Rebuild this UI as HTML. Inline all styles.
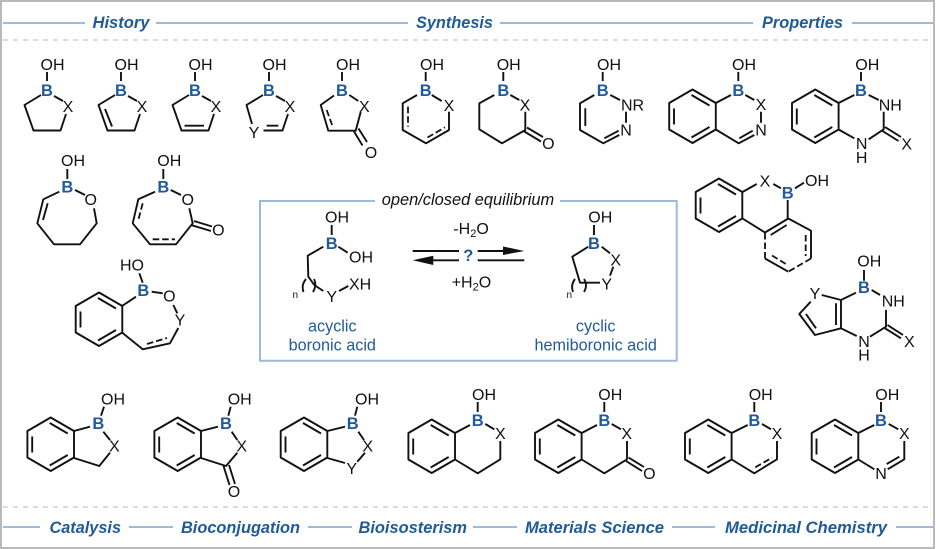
<!DOCTYPE html>
<html>
<head>
<meta charset="utf-8">
<title>Hemiboronic acids</title>
<style>
html,body{margin:0;padding:0;background:#fff;}
svg{display:block;}
text{font-family:"Liberation Sans",sans-serif;fill:#111;font-size:16px;}
.b{font-weight:bold;fill:#1f5a99;text-anchor:middle;font-size:16.5px;}
.c{text-anchor:middle;}
.h{font-weight:bold;font-style:italic;fill:#1f5a99;font-size:16.5px;}
.l{fill:#1f5a99;font-size:16.2px;text-anchor:middle;}
.m{fill:none;stroke:#111;stroke-width:1.9;stroke-linejoin:round;stroke-linecap:butt;}
.d{fill:none;stroke:#111;stroke-width:1.8;stroke-dasharray:6.5 3;}
.r{fill:none;stroke:#8fb0d8;stroke-width:1.7;}
.g{fill:none;stroke:#d0d0d0;stroke-width:1.5;stroke-dasharray:5 5;}
</style>
</head>
<body>
<svg width="936" height="549" viewBox="0 0 936 549" xmlns="http://www.w3.org/2000/svg">
<defs>
<path id="bz" class="m" d="M0 0L23.3 13.5V40L0 53.5L-23.3 40V13.5Z M-1 5.5L17 16 M-1 48L17 37.5 M-18.5 19V35"/>
</defs>
<rect x="0" y="0" width="936" height="549" fill="#fff"/>
<rect x="1" y="1" width="933" height="547" fill="none" stroke="#b9b9b9" stroke-width="2"/>

<!-- header -->
<path class="r" d="M3 23H85 M156 23H408 M500 23H753 M852 23H933"/>
<path class="g" d="M3 40H933 M3 507H933"/>
<text class="h" x="92.5" y="28" textLength="57" lengthAdjust="spacingAndGlyphs">History</text>
<text class="h" x="416" y="28" textLength="77" lengthAdjust="spacingAndGlyphs">Synthesis</text>
<text class="h" x="762" y="28" textLength="81" lengthAdjust="spacingAndGlyphs">Properties</text>

<!-- footer -->
<path class="r" d="M3 527H40 M129 527H173 M308 527H352 M473 527H517 M672 527H715 M896 527H933"/>
<text class="h" x="49.5" y="533" textLength="71.5" lengthAdjust="spacingAndGlyphs">Catalysis</text>
<text class="h" x="181" y="533" textLength="119" lengthAdjust="spacingAndGlyphs">Bioconjugation</text>
<text class="h" x="358.5" y="533" textLength="108.5" lengthAdjust="spacingAndGlyphs">Bioisosterism</text>
<text class="h" x="525" y="533" textLength="139" lengthAdjust="spacingAndGlyphs">Materials Science</text>
<text class="h" x="725" y="533" textLength="162" lengthAdjust="spacingAndGlyphs">Medicinal Chemistry</text>

<!-- row 1 -->
<!-- m1 -->
<text x="40.5" y="70">OH</text><text class="b" x="47" y="96">B</text><text class="c" x="68" y="112">X</text>
<path class="m" d="M47 72V81 M41 95L24.5 105L33.5 130.5H60.5L66 114 M54 96L63 101"/>
<!-- m2 -->
<text x="114.5" y="70">OH</text><text class="b" x="121" y="96">B</text><text class="c" x="142" y="112">X</text>
<path class="m" d="M121 72V81 M115 95L98.5 105L107.5 130.5H134.5L140 114 M128 96L137 101 M105 109L112 126.5"/>
<!-- m3 -->
<text x="188.5" y="70">OH</text><text class="b" x="195" y="96">B</text><text class="c" x="216" y="112">X</text>
<path class="m" d="M195 72V81 M189 95L172.5 105L181.5 130.5H208.5L214 114 M202 96L211 101 M184.5 125.7H204"/>
<!-- m4 -->
<text x="262.5" y="70">OH</text><text class="b" x="269" y="96">B</text><text class="c" x="290" y="112">X</text><text class="c" x="254" y="138">Y</text>
<path class="m" d="M269 72V81 M263 95L246.5 105L252 124 M276 96L285 101 M263.5 130.5H282.5L288 114 M266.7 125.7H278.3"/>
<!-- m5 -->
<text x="336" y="70">OH</text><text class="b" x="342" y="96">B</text><text class="c" x="364.3" y="112">X</text><text class="c" x="371" y="158">O</text>
<path class="m" d="M342 72V81 M334 95.5L320.7 105L328.3 130.7H355.7L360.7 112 M349.3 95L358.3 101 M354 131.5L362.5 145.5 M358.5 128.5L367 142"/>
<path class="d" d="M326.7 110L332.7 126.7"/>
<!-- m6 -->
<text x="420" y="70">OH</text><text class="b" x="425.7" y="96">B</text><text class="c" x="449" y="111">X</text>
<path class="m" d="M425.7 72V81 M417 95L402.7 103.3V130L426 143.3L449 130V111.7 M431.7 95L441.7 101"/>
<path class="d" d="M408 106.7V126.7 M427.5 137.5L445 127.3"/>
<!-- m7 -->
<text x="496.7" y="70">OH</text><text class="b" x="503.3" y="96">B</text><text class="c" x="525" y="110.5">X</text><text class="c" x="548.3" y="149">O</text>
<path class="m" d="M503.3 72V81 M494.3 95L479.3 103.3V129.3L502 143.3L525.3 130V111.7 M510.3 95L519.3 100 M524.3 131.5L541 141.5 M527 127.5L543 137"/>
<!-- m8 -->
<text x="597" y="70">OH</text><text class="b" x="602.7" y="96">B</text><text x="621" y="110.5">NR</text><text class="c" x="626" y="135.5">N</text>
<path class="m" d="M602.7 72V81 M594.3 95L580 103.3V130L603.3 143.3L619.3 135 M585.3 108.3V126 M604.3 138.3L618.7 130.7 M626 111.7V122.7 M610.3 95L620 100"/>
<!-- m9 -->
<text x="732" y="70">OH</text><text class="b" x="738.3" y="96">B</text><text class="c" x="761" y="110">X</text><text class="c" x="761" y="135.5">N</text>
<use href="#bz" x="692.5" y="89.5"/>
<path class="m" d="M738.3 72V81 M715.8 103L731 95 M715.8 129.5L738.7 143.3L754.3 135 M739.3 138.3L752.7 130.7 M761 111.7V122.7 M745.3 95L754.3 100"/>
<!-- m10 -->
<text x="855.3" y="70">OH</text><text class="b" x="861" y="96">B</text><text x="878.7" y="110.5">NH</text><text class="c" x="861.7" y="149">N</text><text class="c" x="861.7" y="163">H</text><text class="c" x="906.7" y="149.5">X</text>
<use href="#bz" x="815.3" y="89.5"/>
<path class="m" d="M861 72V81 M838.6 103L854.3 95 M838.6 129.5L854.3 138.3 M868.7 139.3L883.7 129.3V111.7 M882.5 131L898.5 141 M885 127L901 137 M868.7 95L878.7 100"/>

<!-- row 2 left -->
<!-- m11 -->
<text x="61" y="166">OH</text><text class="b" x="67.3" y="192.5">B</text><text class="c" x="90.7" y="205">O</text>
<path class="m" d="M67.3 169V179 M59.3 191.7L43.3 199.3L37.3 223.3L54 244.3H80L96.7 223.3L94 208.3 M47.7 203.3L43 220 M75 190L85 195"/>
<!-- m12 -->
<text x="157.3" y="166">OH</text><text class="b" x="163.3" y="192.5">B</text><text class="c" x="187.7" y="205">O</text><text class="c" x="218.3" y="235.5">O</text>
<path class="m" d="M163.3 169V179 M155 191.7L138.3 199.3L132.7 223.3L150 244.3H176L192.7 223.3L189.3 208.3 M170.7 190L181 195 M192 225.3L211 231 M194 221L212 226.5"/>
<path class="d" d="M142.7 203.3L138.3 220 M152.7 239.3H175"/>
<!-- m13 -->
<text x="120" y="270.5">HO</text><text class="b" x="143.3" y="296">B</text><text class="c" x="169.3" y="301.5">O</text><text class="c" x="180" y="325.5">Y</text>
<use href="#bz" x="99" y="292.5"/>
<path class="m" d="M139.3 273.3L142.7 282.7 M151.7 291.7L162.7 293.3 M173.3 305L177.3 313.3 M178.3 328L170 343.3L142.7 349.3L122 332.5 M122 306L136 296.7"/>
<path class="d" d="M147 344L167 338"/>

<!-- center box -->
<path fill="none" stroke="#9db9da" stroke-width="2" d="M375 201H260V360.7H676.7V201H560"/>
<text x="381.7" y="205" style="font-size:16.4px;font-style:italic" textLength="172.5" lengthAdjust="spacingAndGlyphs">open/closed equilibrium</text>

<!-- acyclic -->
<text x="325" y="222.3">OH</text><text class="b" x="331.7" y="249">B</text><text x="349" y="262.3">OH</text><text x="349" y="289.3">XH</text><text class="c" x="331.7" y="302">Y</text><text x="292.5" y="298" style="font-size:10px">n</text>
<path class="m" d="M331.7 225V235 M323.3 246.7L307.7 255.7L308.3 276.7L314.3 285L323.3 291 M338.3 246.7L347.7 252.7 M339 291L348.3 286 M306 279Q301 285 303.5 292 M314 279Q317 285 313 292"/>

<!-- arrows -->
<path class="m" d="M412.7 251H459 M477.7 251H510 M428 260.3H459 M477.7 260.3H524.3"/>
<path fill="#111" d="M503 246.5L524.3 251L503 255Z M412.7 260.3L433.3 255.7V265Z"/>
<text class="b" x="468.3" y="261">?</text>
<text x="453.3" y="234">-H<tspan dy="3" style="font-size:11px">2</tspan><tspan dy="-3">O</tspan></text>
<text x="451.7" y="287.3">+H<tspan dy="3" style="font-size:11px">2</tspan><tspan dy="-3">O</tspan></text>

<!-- cyclic -->
<text x="588.3" y="222.3">OH</text><text class="b" x="594" y="249">B</text><text class="c" x="615.7" y="265.5">X</text><text class="c" x="606.7" y="289.5">Y</text><text x="566.5" y="298" style="font-size:10px">n</text>
<path class="m" d="M594 225V235 M588.3 246.7L572.3 256.7L580 282.7H600 M601.7 246.7L610 253.3 M613.3 266.7L610 275.7 M575 279Q570.5 285 573 292 M584 279Q588 285 584 292"/>

<text class="l" x="332.3" y="331.7">acyclic</text>
<text class="l" x="332.3" y="350.7">boronic acid</text>
<text class="l" x="595.7" y="331.7">cyclic</text>
<text class="l" x="595.7" y="350.7">hemiboronic acid</text>

<!-- right 1 -->
<text class="c" x="765" y="186.5">X</text><text class="b" x="787.7" y="198.5">B</text><text x="805" y="186">OH</text>
<use href="#bz" x="719" y="178.5"/>
<path class="m" d="M742.5 192L756.7 184 M773.3 184L781 188.3 M795 188.3L804 182.7 M787.7 200V219 M742.5 218.5L765 232.5L788.3 218.5L811 230.7V258.5 M788.3 271.7L765 258.5 M770.7 235L786.7 225"/>
<path class="d" d="M765 233V258.5 M811 258.5L788.3 271.7 M805.7 235V256 M772 255.5L787.5 265"/>

<!-- right 2 -->
<text x="857.3" y="266.7">OH</text><text class="b" x="864" y="293">B</text><text x="881.7" y="306.7">NH</text><text class="c" x="815" y="299">Y</text><text class="c" x="864" y="347">N</text><text class="c" x="864" y="360.5">H</text><text class="c" x="909.3" y="347">X</text>
<path class="m" d="M864 270V280.7 M821.7 295L841 300L856 292.7 M841 300V328.3L815 335L799.3 314L810.7 301.7 M836 303.3V325 M816 328.3L806 314 M841 328.3L856.7 336 M870 336.7L886 326.7V310 M885 328.3L901 338.3 M887.5 325L903 335 M871.7 290L880 295"/>

<!-- bottom row -->
<!-- b1 -->
<text x="101" y="404.3">OH</text><text class="b" x="98.3" y="429">B</text><text class="c" x="114.3" y="451.5">X</text>
<use href="#bz" x="50.7" y="417.5"/>
<path class="m" d="M104 406.7L101 415.7 M74 431L90 426.7 M103.3 431.7L110 440 M74 458L99.3 466L110 452.7"/>
<!-- b2 -->
<text x="227.7" y="404.3">OH</text><text class="b" x="226" y="429">B</text><text class="c" x="241.7" y="451.5">X</text><text class="c" x="234" y="497">O</text>
<use href="#bz" x="177.7" y="417.5"/>
<path class="m" d="M230.7 406.7L228.3 415.7 M201 431L218 426.7 M231.7 431.7L237.3 440 M201 458L226 466L237.3 452.7 M223.5 466L229.5 485 M229 465L235 484"/>
<!-- b3 -->
<text x="355" y="404.3">OH</text><text class="b" x="352.7" y="429">B</text><text class="c" x="367.7" y="451.5">X</text><text class="c" x="351.7" y="474">Y</text>
<use href="#bz" x="304" y="417.5"/>
<path class="m" d="M357.3 406.7L355 415.7 M327.3 431L345 426.7 M358.3 431.7L364 440 M327.3 458L345 463 M357.3 461.7L365 452.7"/>
<!-- b4 -->
<text x="472" y="400">OH</text><text class="b" x="477.7" y="426">B</text><text class="c" x="500.3" y="439">X</text>
<use href="#bz" x="431.7" y="419.5"/>
<path class="m" d="M477.7 402V412 M455 433L470 425 M485.3 424L494.3 429.3 M500.3 441V459.3L477.7 473.3L455 459.5"/>
<!-- b5 -->
<text x="598.3" y="400">OH</text><text class="b" x="604.3" y="426">B</text><text class="c" x="626.7" y="439">X</text><text class="c" x="649.3" y="479">O</text>
<use href="#bz" x="558.3" y="419.5"/>
<path class="m" d="M604.3 402V412 M581.7 433L597 425 M611.7 424L621 429.3 M627 441V459.3L604.3 473.3L581.7 459.5 M626 461L642 471 M628.5 457.5L644 467"/>
<!-- b6 -->
<text x="748.7" y="400">OH</text><text class="b" x="754.3" y="426">B</text><text class="c" x="777" y="439">X</text>
<use href="#bz" x="708.3" y="419.5"/>
<path class="m" d="M754.3 402V412 M731.7 433L747.7 425 M762 424L771 429.3 M777 441V459.3L754.3 473.3L731.7 459.5"/>
<path class="d" d="M755.3 467.3L772 457.7"/>
<!-- b7 -->
<text x="875.3" y="400">OH</text><text class="b" x="881" y="426">B</text><text class="c" x="904.3" y="439">X</text><text class="c" x="881" y="479">N</text>
<use href="#bz" x="835" y="419.5"/>
<path class="m" d="M881 402V412 M858.3 433L874.3 425 M888.7 424L898.3 429.3 M904.3 441V459.3L887.7 469.3 M899.3 456.7L886.7 464 M858.3 459.5L874.3 469.3"/>
</svg>
</body>
</html>
